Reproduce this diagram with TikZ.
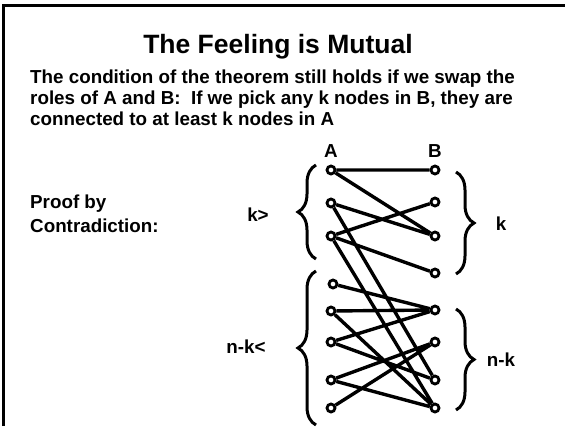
\documentclass[tikz,border=0pt]{standalone}
\usepackage{fontspec}
\setmainfont{Liberation Sans}
\usetikzlibrary{decorations.pathreplacing}

\begin{document}
\begin{tikzpicture}[x=1pt,y=-1pt,
    vtx/.style={circle,draw,fill=white,line width=2.8pt,minimum size=8pt,inner sep=0pt},
    link/.style={line width=3.4pt},
    curly/.style={decorate,decoration={brace,amplitude=#1},line width=3pt},
    curly/.default=18,
    lbl/.style={font=\fontsize{18.8}{21}\selectfont\bfseries,inner sep=0pt}]
  \useasboundingbox (0,0) rectangle (565,426);
  \draw[line width=2.4pt] (3.5,426) -- (3.5,5.5) -- (565,5.5);

  % title and text
  \node[font=\fontsize{26.5}{30}\selectfont\bfseries,inner sep=0pt,anchor=base] (title) at (278,53) {The Feeling is Mutual};
  \node[lbl,align=left,anchor=north west] (cond) at (30,69.5)
    {The condition of the theorem still holds if we swap the\\
     roles of A and B:\ \ If we pick any k nodes in B, they are\\
     connected to at least k nodes in A};
  \node[lbl,font=\fontsize{18.8}{24}\selectfont\bfseries,align=left,anchor=north west] (proof) at (30,194.5)
    {Proof by\\Contradiction:};

  % the two sides
  \node[lbl,anchor=base] (labA) at (331,157) {A};
  \node[lbl,anchor=base] (labB) at (435,157) {B};
  \node[vtx] (a1) at (331,170) {};
  \node[vtx] (a2) at (331,203) {};
  \node[vtx] (a3) at (331,236) {};
  \node[vtx] (a4) at (333,284) {};
  \node[vtx] (a5) at (331,311) {};
  \node[vtx] (a6) at (331,342) {};
  \node[vtx] (a7) at (331,380) {};
  \node[vtx] (a8) at (331,408) {};
  \node[vtx] (b1) at (435,170) {};
  \node[vtx] (b2) at (435,202) {};
  \node[vtx] (b3) at (435,236) {};
  \node[vtx] (b4) at (435,273) {};
  \node[vtx] (b5) at (435,310) {};
  \node[vtx] (b6) at (435,342) {};
  \node[vtx] (b7) at (435,380) {};
  \node[vtx] (b8) at (435,408) {};

  \draw[link] (a1) -- (b1)  (a1) -- (b3)
    (a2) -- (b3)  (a2) -- (b7)
    (a3) -- (b2)  (a3) -- (b4)  (a3) -- (b8)
    (a4) -- (b5)
    (a5) -- (b5)  (a5) -- (b8)
    (a6) -- (b5)  (a6) -- (b7)
    (a7) -- (b6)  (a7) -- (b8)
    (a8) -- (b6);

  % braces
  \draw[curly] (316,259) -- (316,165);
  \draw[curly] (316,425) -- (316,271);
  \draw[curly] (456,172) -- (456,274);
  \draw[curly] (456,309) -- (456,410);
  \node[lbl] (kless) at (258,215) {k>};
  \node[lbl] (nkless) at (246,347) {n-k<};
  \node[lbl] (kright) at (501,224) {k};
  \node[lbl] (nkright) at (501,360) {n-k};
\end{tikzpicture}
\end{document}
